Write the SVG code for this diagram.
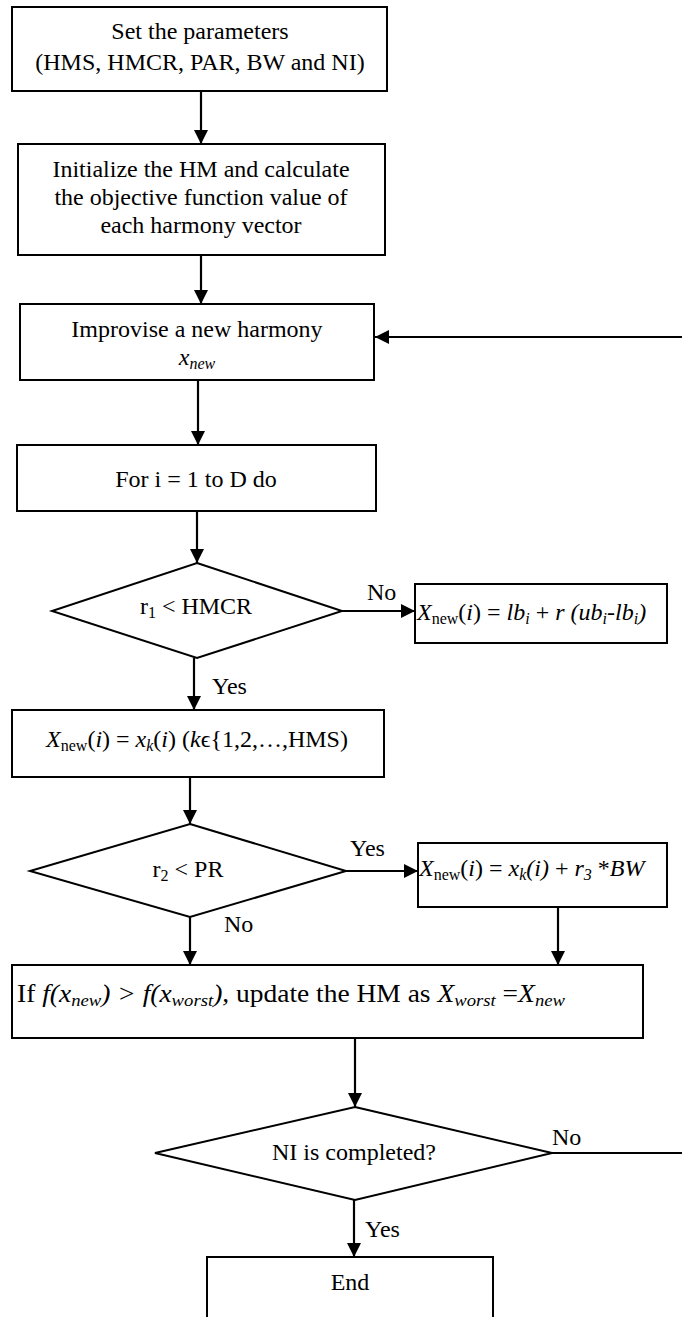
<svg xmlns="http://www.w3.org/2000/svg" width="682" height="1317" viewBox="0 0 682 1317">
<defs>
<style>
.box{fill:#fff;stroke:#000;stroke-width:2}
.ln{fill:none;stroke:#000;stroke-width:2.2}
.t{font-family:"Liberation Serif","Times New Roman",serif;font-size:24px;fill:#000}
.m{text-anchor:middle}
.i{font-style:italic}
.s{font-size:16px}
.big{font-size:25px}
.bs{font-size:17px}
</style>
<marker id="ah" markerUnits="userSpaceOnUse" markerWidth="16" markerHeight="16" refX="14" refY="7" orient="auto">
<path d="M0,0 L14,7 L0,14 Z" fill="#000"/>
</marker>
</defs>

<g id="connectors">
<line class="ln" x1="201" y1="91" x2="201" y2="144" marker-end="url(#ah)"/>
<line class="ln" x1="201" y1="255" x2="201" y2="304" marker-end="url(#ah)"/>
<line class="ln" x1="682" y1="337" x2="375" y2="337" marker-end="url(#ah)"/>
<line class="ln" x1="198" y1="380" x2="198" y2="445" marker-end="url(#ah)"/>
<line class="ln" x1="197" y1="511" x2="197" y2="563" marker-end="url(#ah)"/>
<line class="ln" x1="342" y1="611" x2="415" y2="611" marker-end="url(#ah)"/>
<line class="ln" x1="194" y1="658" x2="194" y2="710" marker-end="url(#ah)"/>
<line class="ln" x1="190" y1="777" x2="190" y2="824" marker-end="url(#ah)"/>
<line class="ln" x1="346" y1="871" x2="418" y2="871" marker-end="url(#ah)"/>
<line class="ln" x1="190" y1="917" x2="190" y2="965" marker-end="url(#ah)"/>
<line class="ln" x1="558" y1="907" x2="558" y2="965" marker-end="url(#ah)"/>
<line class="ln" x1="355" y1="1038" x2="355" y2="1107" marker-end="url(#ah)"/>
<line class="ln" x1="552" y1="1153" x2="682" y2="1153"/>
<line class="ln" x1="354" y1="1200" x2="354" y2="1257" marker-end="url(#ah)"/>
<text class="t" x="367" y="600">No</text>
<text class="t" x="212" y="694">Yes</text>
<text class="t" x="350" y="856">Yes</text>
<text class="t" x="224" y="932">No</text>
<text class="t" x="552" y="1145">No</text>
<text class="t" x="365" y="1237">Yes</text>
</g>

<g id="n-set">
<rect class="box" x="12" y="7" width="375" height="84"/>
<text class="t m" x="200" y="39">Set the parameters</text>
<text class="t m" x="200" y="70">(HMS, HMCR, PAR, BW and NI)</text>
</g>

<g id="n-init">
<rect class="box" x="18" y="144" width="367" height="111"/>
<text class="t m" x="201" y="177">Initialize the HM and calculate</text>
<text class="t m" x="201" y="205">the objective function value of</text>
<text class="t m" x="201" y="233">each harmony vector</text>
</g>

<g id="n-improvise">
<rect class="box" x="20" y="304" width="354" height="76"/>
<text class="t m" x="197" y="337">Improvise a new harmony</text>
<text class="t m i" x="197" y="365">x<tspan class="s" dy="4">new</tspan></text>
</g>

<g id="n-for">
<rect class="box" x="17" y="445" width="359" height="66"/>
<text class="t m" x="196" y="487">For i = 1 to D do</text>
</g>

<g id="n-hmcr">
<polygon class="box" points="197,563 342,611 197,658 52,611"/>
<text class="t m" x="196" y="614">r<tspan class="s" dy="4">1</tspan><tspan dy="-4"> &lt; HMCR</tspan></text>
</g>

<g id="n-random">
<rect class="box" x="415" y="584" width="252" height="59"/>
<text class="t" x="417" y="620"><tspan class="i">X</tspan><tspan class="s" dy="4">new</tspan><tspan dy="-4">(</tspan><tspan class="i">i</tspan>) = <tspan class="i">lb</tspan><tspan class="s i" dy="4">i</tspan><tspan dy="-4"> + </tspan><tspan class="i">r (ub</tspan><tspan class="s i" dy="4">i</tspan><tspan class="i" dy="-4">-lb</tspan><tspan class="s i" dy="4">i</tspan><tspan class="i" dy="-4">)</tspan></text>
</g>

<g id="n-memory">
<rect class="box" x="12" y="710" width="372" height="67"/>
<text class="t m" x="197" y="747"><tspan class="i">X</tspan><tspan class="s" dy="4">new</tspan><tspan dy="-4">(</tspan><tspan class="i">i</tspan>) = <tspan class="i">x</tspan><tspan class="s i" dy="4">k</tspan><tspan dy="-4">(</tspan><tspan class="i">i</tspan>) (<tspan class="i">k</tspan>ϵ{1,2,…,HMS)</text>
</g>

<g id="n-pr">
<polygon class="box" points="190,824 346,871 190,917 30,871"/>
<text class="t m" x="188" y="877">r<tspan class="s" dy="4">2</tspan><tspan dy="-4"> &lt; PR</tspan></text>
</g>

<g id="n-adjust">
<rect class="box" x="418" y="843" width="249" height="64"/>
<text class="t" x="419" y="876"><tspan class="i">X</tspan><tspan class="s" dy="4">new</tspan><tspan dy="-4">(</tspan><tspan class="i">i</tspan>) = <tspan class="i">x</tspan><tspan class="s i" dy="4">k</tspan><tspan class="i" dy="-4">(i)</tspan> + <tspan class="i">r</tspan><tspan class="s i" dy="4">3</tspan><tspan dy="-4"> *</tspan><tspan class="i">BW</tspan></text>
</g>

<g id="n-update">
<rect class="box" x="12" y="965" width="631" height="73"/>
<text class="t big" x="17" y="1002" textLength="548" lengthAdjust="spacingAndGlyphs">If <tspan class="i">f(x</tspan><tspan class="bs i" dy="4">new</tspan><tspan class="i" dy="-4">) &gt; f(x</tspan><tspan class="bs i" dy="4">worst</tspan><tspan class="i" dy="-4">),</tspan> update the HM as <tspan class="i">X</tspan><tspan class="bs i" dy="4">worst</tspan><tspan dy="-4"> =</tspan><tspan class="i">X</tspan><tspan class="bs i" dy="4">new</tspan></text>
</g>

<g id="n-ni">
<polygon class="box" points="355,1107 552,1153 355,1200 155,1153"/>
<text class="t m" x="354" y="1160">NI is completed?</text>
</g>

<g id="n-end">
<rect class="box" x="207" y="1257" width="286" height="80"/>
<text class="t m" x="350" y="1290">End</text>
</g>
</svg>
